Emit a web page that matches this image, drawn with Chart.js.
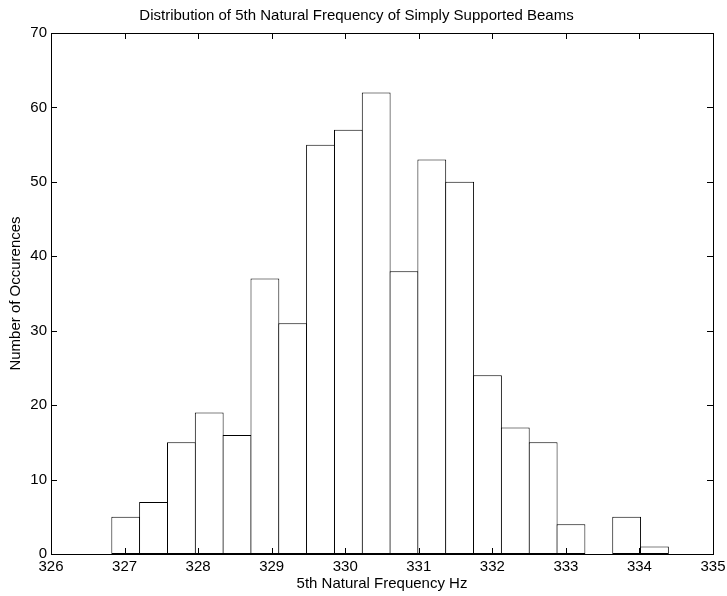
<!DOCTYPE html>
<html>
<head>
<meta charset="utf-8">
<script src="https://cdn.jsdelivr.net/npm/chart.js@4.4.1/dist/chart.umd.min.js"></script>
<style>
  html, body { margin: 0; padding: 0; background: #fff; }
  #wrap { width: 727px; height: 596px; }
</style>
</head>
<body>
<div id="wrap"><canvas id="hist"></canvas></div>
<script>
// histogram bin centres (Hz), 20 bins
const binCenters = [327.016, 327.394, 327.773, 328.151, 328.529, 328.908, 329.286, 329.664, 330.043, 330.421,
                    330.799, 331.177, 331.556, 331.934, 332.312, 332.691, 333.069, 333.447, 333.826, 334.204];
const counts = [5, 7, 15, 19, 16, 37, 31, 55, 57, 62, 38, 53, 50, 24, 17, 15, 4, 0, 5, 1];
const xTicks = [326, 327, 328, 329, 330, 331, 332, 333, 334, 335];
const yTicks = [0, 10, 20, 30, 40, 50, 60, 70];

const FONT = '"Liberation Sans", Arial, Helvetica, sans-serif';

// matlab style box with inward ticks on all four sides
const boxTicks = {
    id: 'boxTicks',
    afterDatasetsDraw(chart) {
        const ctx = chart.ctx;
        const a = chart.chartArea;
        const xs = chart.scales.x, ys = chart.scales.y;
        const len = 6;
        ctx.save();
        ctx.strokeStyle = '#000';
        ctx.lineWidth = 1;
        ctx.beginPath();
        xTicks.forEach(v => {
            const px = Math.round(xs.getPixelForValue(v)) + 0.5;
            ctx.moveTo(px, a.bottom); ctx.lineTo(px, a.bottom - len);
            ctx.moveTo(px, a.top); ctx.lineTo(px, a.top + len);
        });
        yTicks.forEach(v => {
            const py = Math.round(ys.getPixelForValue(v)) + 0.5;
            ctx.moveTo(a.left, py); ctx.lineTo(a.left + len, py);
            ctx.moveTo(a.right, py); ctx.lineTo(a.right - len, py);
        });
        ctx.stroke();
        ctx.strokeRect(Math.round(a.left) + 0.5, Math.round(a.top) + 0.5,
                       Math.round(a.right - a.left), Math.round(a.bottom - a.top));
        ctx.restore();
    }
};

new Chart(document.getElementById('hist'), {
    type: 'bar',
    data: {
        datasets: [{
            data: binCenters.map((c, i) => ({ x: c, y: counts[i] })),
            backgroundColor: '#ffffff',
            borderColor: '#000000',
            borderWidth: 1,
            borderSkipped: false,
            barPercentage: 1.036,   // slight overlap so neighbouring edges share one line
            categoryPercentage: 1.0
        }]
    },
    options: {
        responsive: true,
        maintainAspectRatio: false,
        animation: false,
        layout: { padding: { left: 0, right: 14, top: 0, bottom: 0 } },
        plugins: {
            legend: { display: false },
            tooltip: { enabled: false },
            title: {
                display: true,
                text: 'Distribution of 5th Natural Frequency of Simply Supported Beams',
                color: '#000',
                font: { family: FONT, size: 15, weight: 'normal', lineHeight: 1.2 },
                padding: { top: 6.5, bottom: 8.5 }
            }
        },
        scales: {
            x: {
                type: 'linear',
                min: 326,
                max: 335,
                offset: false,
                grid: { display: false, drawTicks: false },
                border: { display: false },
                afterBuildTicks: s => { s.ticks = xTicks.map(v => ({ value: v })); },
                ticks: { color: '#000', font: { family: FONT, size: 15 }, padding: 4, maxRotation: 0, autoSkip: false },
                title: { display: true, text: '5th Natural Frequency Hz', color: '#000',
                         font: { family: FONT, size: 15 }, padding: { top: 0, bottom: 3 } },
                afterFit: s => { s.height = 42; s.paddingLeft = 0; s.paddingRight = 0; }
            },
            y: {
                min: 0,
                max: 70,
                grid: { display: false, drawTicks: false },
                border: { display: false },
                afterBuildTicks: s => { s.ticks = yTicks.map(v => ({ value: v })); },
                ticks: { color: '#000', font: { family: FONT, size: 15 }, padding: 4 },
                title: { display: true, text: 'Number of Occurences', color: '#000',
                         font: { family: FONT, size: 15 }, padding: { top: 6.5, bottom: 0 } },
                afterFit: s => { s.width = 51; s.paddingTop = 0; s.paddingBottom = 0; }
            }
        }
    },
    plugins: [boxTicks]
});
</script>
</body>
</html>
